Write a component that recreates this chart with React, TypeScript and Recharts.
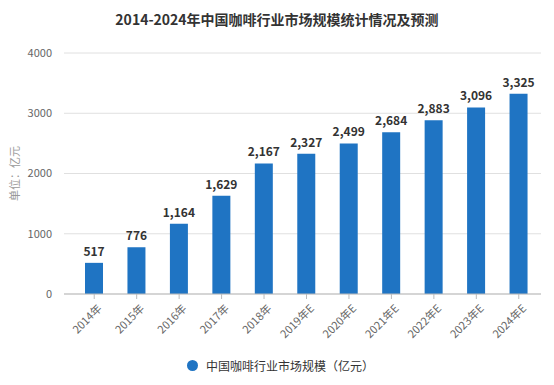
import { BarChart, Bar, XAxis, YAxis, CartesianGrid, Legend, LabelList } from 'recharts'

const years = ['2014年', '2015年', '2016年', '2017年', '2018年', '2019年E', '2020年E', '2021年E', '2022年E', '2023年E', '2024年E']
const marketSize = [517, 776, 1164, 1629, 2167, 2327, 2499, 2684, 2883, 3096, 3325]
const yTicks = [0, 1000, 2000, 3000, 4000]

const seriesName = '中国咖啡行业市场规模（亿元）'
const barColor = '#1f74c3'
const font = '"Microsoft YaHei", "Noto Sans CJK SC", "Noto Sans", sans-serif'

const data = years.map((year, i) => ({ year, value: marketSize[i] }))

const AngledTick = ({ x, y, payload }: any) => (
  <g transform={`translate(${x + 4},${y + 4})`}>
    <text x={0} y={0} dy={6} textAnchor="end" transform="rotate(-45)" fill="#666" fontSize={11} fontFamily={font}>
      {payload.value}
    </text>
  </g>
)

const LegendContent = () => (
  <div style={{ display: 'flex', justifyContent: 'center', alignItems: 'center', fontFamily: font, fontSize: 12, color: '#333' }}>
    <span style={{ width: 11, height: 11, borderRadius: '50%', background: barColor, marginRight: 8, display: 'inline-block' }} />
    <span>{seriesName}</span>
  </div>
)

export default function App() {
  return (
    <div style={{ position: 'absolute', left: 0, top: 0, width: 554, height: 385, background: '#fff' }}>
      <div style={{ position: 'absolute', top: 9, left: 0, width: 554, textAlign: 'center', fontFamily: font, fontSize: 14, fontWeight: 'bold', color: '#333' }}>
        2014-2024年中国咖啡行业市场规模统计情况及预测
      </div>
      <BarChart
        width={554}
        height={385}
        data={data}
        margin={{ top: 53, right: 13, left: 20, bottom: 8 }}
        barSize={18}
      >
        <CartesianGrid stroke="#e0e0e0" vertical={false} />
        <XAxis
          dataKey="year"
          interval={0}
          height={63}
          padding={{ left: 9, right: 1 }}
          axisLine={{ stroke: '#bbb' }}
          tickLine={{ stroke: '#bbb' }}
          tickSize={5}
          tick={<AngledTick />}
        />
        <YAxis
          width={44}
          domain={[0, 4000]}
          ticks={yTicks}
          axisLine={false}
          tickLine={false}
          tick={{ fill: '#666', fontSize: 11, fontFamily: font }}
          tickMargin={6}
          label={{ value: '单位：亿元', angle: -90, position: 'insideLeft', offset: -5, fill: '#999', fontSize: 11, fontFamily: font, style: { textAnchor: 'middle' } }}
        />
        <Legend verticalAlign="bottom" height={20} content={<LegendContent />} />
        <Bar dataKey="value" name={seriesName} fill={barColor} isAnimationActive={false}>
          <LabelList
            dataKey="value"
            position="top"
            offset={7}
            formatter={(v: any) => Number(v).toLocaleString('en-US')}
            style={{ fill: '#333', fontSize: 12, fontWeight: 'bold', fontFamily: font }}
          />
        </Bar>
      </BarChart>
    </div>
  )
}
